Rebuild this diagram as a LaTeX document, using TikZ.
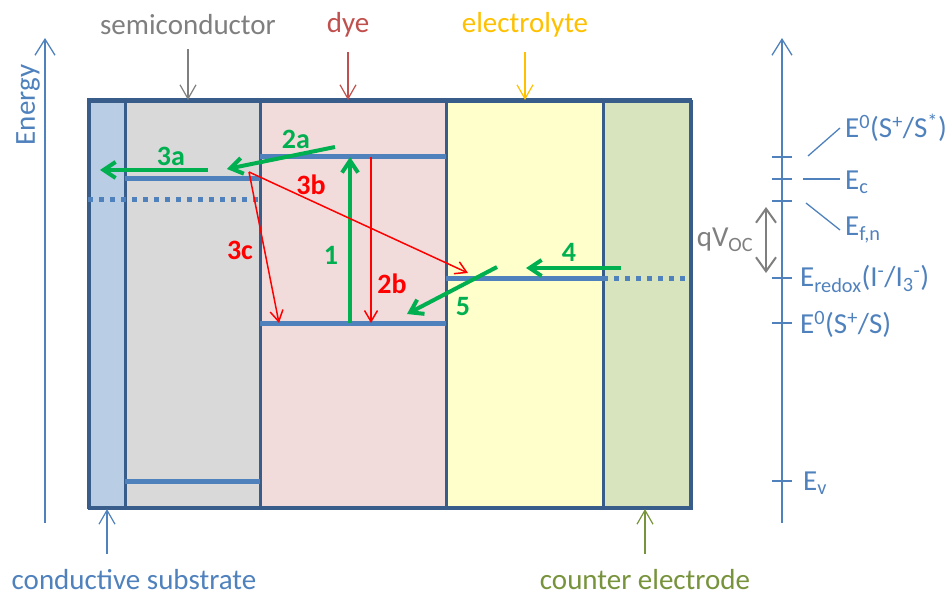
\documentclass[tikz,border=0pt]{standalone}
\usepackage{fontspec}
\setmainfont{Carlito}
\usepackage{xcolor}
\usepackage{tikz}
\usetikzlibrary{arrows.meta}
\definecolor{framecol}{HTML}{385D8A}
\definecolor{levelcol}{HTML}{4F81BD}
\definecolor{subfill}{HTML}{B9CDE5}
\definecolor{semifill}{HTML}{D9D9D9}
\definecolor{dyefill}{HTML}{F2DCDB}
\definecolor{elecfill}{HTML}{FFFFCC}
\definecolor{ctrfill}{HTML}{D7E4BD}
\definecolor{dsgreen}{HTML}{00B050}
\definecolor{dsred}{HTML}{FF0000}
\definecolor{semicol}{HTML}{7F7F7F}
\definecolor{dyecol}{HTML}{C0504D}
\definecolor{eleccol}{HTML}{FFC000}
\definecolor{ctrcol}{HTML}{77933C}

\begin{document}
\begin{tikzpicture}[x=1pt, y=-1pt,
    frame/.style={draw=framecol, line width=3pt},
    level/.style={levelcol, line width=5pt},
    dots/.style={levelcol, line width=5pt, dash pattern=on 5pt off 6pt},
    lbl/.style={font=\fontsize{29}{32}\selectfont, inner sep=0pt},
    num/.style={font=\fontsize{28}{30}\selectfont\bfseries, inner sep=0pt},
    garr/.style={-{Straight Barb[length=12pt,width=16pt]}, line width=4pt, dsgreen},
    rarr/.style={-{Straight Barb[length=11pt,width=13pt]}, line width=1.5pt, dsred},
    tarr/.style={-{Straight Barb[length=14pt,width=16pt]}, line width=1.2pt},
    axis/.style={levelcol, line width=1.3pt},
]
\useasboundingbox (0,0) rectangle (948,596);

% Layers
\foreach \xa/\xb/\col in {88/125/subfill, 125/260/semifill, 260/446/dyefill,
                          446/603/elecfill, 603/690/ctrfill} {
  \draw[frame, fill=\col] (\xa,100) rectangle (\xb,507);
}
\node[frame, minimum width=602pt, minimum height=407pt, inner sep=0pt,
      anchor=north west] (cell) at (88,100) {};

% Energy levels
\draw[level] (125,179) -- (260,179);
\draw[dots]  (88,200) -- (260,200);
\draw[level] (125,481) -- (260,481);
\draw[level] (260,157) -- (446,157);
\draw[level] (260,323) -- (446,323);
\draw[level] (446,278) -- (603,278);
\draw[dots]  (603,278) -- (690,278);

% Process end points
\coordinate (inj)   at (249,172);
\coordinate (cbout) at (100,170);
\coordinate (cbin)  at (208,170);
\coordinate (luA)   at (335,147);
\coordinate (luB)   at (227,169);
\coordinate (hoX)   at (350,323);
\coordinate (luX)   at (350,157);
\coordinate (luR)   at (371,157);
\coordinate (hoR)   at (371,323);
\coordinate (redR)  at (468,273);
\coordinate (hoC)   at (279,323);
\coordinate (ceA)   at (621,268);
\coordinate (ceB)   at (526,268);
\coordinate (rgA)   at (497,267);
\coordinate (rgB)   at (407,314);

\draw[garr] (cbin) -- (cbout);
\draw[garr] (luA) -- (luB);
\draw[garr] (hoX) -- (luX);
\draw[garr] (ceA) -- (ceB);
\draw[garr] (rgA) -- (rgB);
\draw[rarr] (luR) -- (hoR);
\draw[rarr] (inj) -- (redR);
\draw[rarr] (inj) -- (hoC);

\node[num, text=dsgreen] (n3a) at (171,156) {3a};
\node[num, text=dsgreen] (n2a) at (296,139) {2a};
\node[num, text=dsgreen] (n1)  at (331,255) {1};
\node[num, text=dsgreen] (n4)  at (569,252) {4};
\node[num, text=dsgreen] (n5)  at (463,307) {5};
\node[num, text=dsred]   (n2b) at (392,284) {2b};
\node[num, text=dsred]   (n3b) at (311,185) {3b};
\node[num, text=dsred]   (n3c) at (240,250) {3c};

% Layer names
\node[lbl, text=semicol] (semi) at (188,25) {semiconductor};
\node[lbl, text=dyecol]  (dye)  at (348,25) {dye};
\node[lbl, text=eleccol] (elec) at (525,25) {electrolyte};
\draw[tarr, semicol, shorten <=14pt] (semi.south) -- (semi.south |- cell.north);
\draw[tarr, dyecol,  shorten <=14pt] (dye.south)  -- (dye.south |- cell.north);
\draw[tarr, eleccol, shorten <=14pt] (elec.south) -- (elec.south |- cell.north);

\node[lbl, text=levelcol] (subst) at (134,580) {conductive substrate};
\node[lbl, text=ctrcol]   (ctr)   at (645,580) {counter electrode};
\coordinate (subtip) at (107,509);
\coordinate (ctrtip) at (645,509);
\draw[tarr, levelcol, shorten <=16pt] (subtip |- subst.north) -- (subtip);
\draw[tarr, ctrcol,   shorten <=16pt] (ctrtip |- ctr.north) -- (ctrtip);

% Energy axes
\coordinate (lb) at (45,523);
\coordinate (lt) at (45,38);
\coordinate (rb) at (782,523);
\coordinate (rt) at (782,38);
\draw[axis, -{Straight Barb[length=16pt,width=20pt]}] (lb) -- (lt);
\draw[axis, -{Straight Barb[length=16pt,width=20pt]}] (rb) -- (rt);
\node[lbl, text=levelcol, rotate=90] (energy) at (28,105) {Energy};

\foreach \y in {157,179,201,278,323,481} {
  \draw[axis] (772,\y) -- (792,\y);
}

\node[lbl, text=levelcol, anchor=west] (es)  at (845,128)
  {E\textsuperscript{0}(S\textsuperscript{+}/S\textsuperscript{*})};
\node[lbl, text=levelcol, anchor=west] (ec)  at (845,182) {E\textsubscript{c}};
\node[lbl, text=levelcol, anchor=west] (efn) at (845,230) {E\textsubscript{f,n}};
\node[lbl, text=levelcol, anchor=west] (ered) at (800,279)
  {E\textsubscript{redox}(I\textsuperscript{-}/I\textsubscript{3}\textsuperscript{-})};
\node[lbl, text=levelcol, anchor=west] (es0) at (800,324)
  {E\textsuperscript{0}(S\textsuperscript{+}/S)};
\node[lbl, text=levelcol, anchor=west] (ev)  at (803,483) {E\textsubscript{v}};

\coordinate (ecl) at (803,179);
\draw[axis] (808,156) -- ([xshift=-5pt]es.west);
\draw[axis, shorten >=5pt] (ecl) -- (ecl -| ec.west);
\draw[axis] (806,203) -- ([xshift=-5pt]efn.west);

% Open-circuit voltage
\coordinate (vt) at (766,207);
\coordinate (vb) at (766,273);
\draw[semicol, line width=2pt,
      {Straight Barb[length=14pt,width=20pt]}-{Straight Barb[length=14pt,width=20pt]}] (vt) -- (vb);
\node[lbl, text=semicol] (qv) at (725,240) {qV\textsubscript{OC}};

\end{tikzpicture}
\end{document}
